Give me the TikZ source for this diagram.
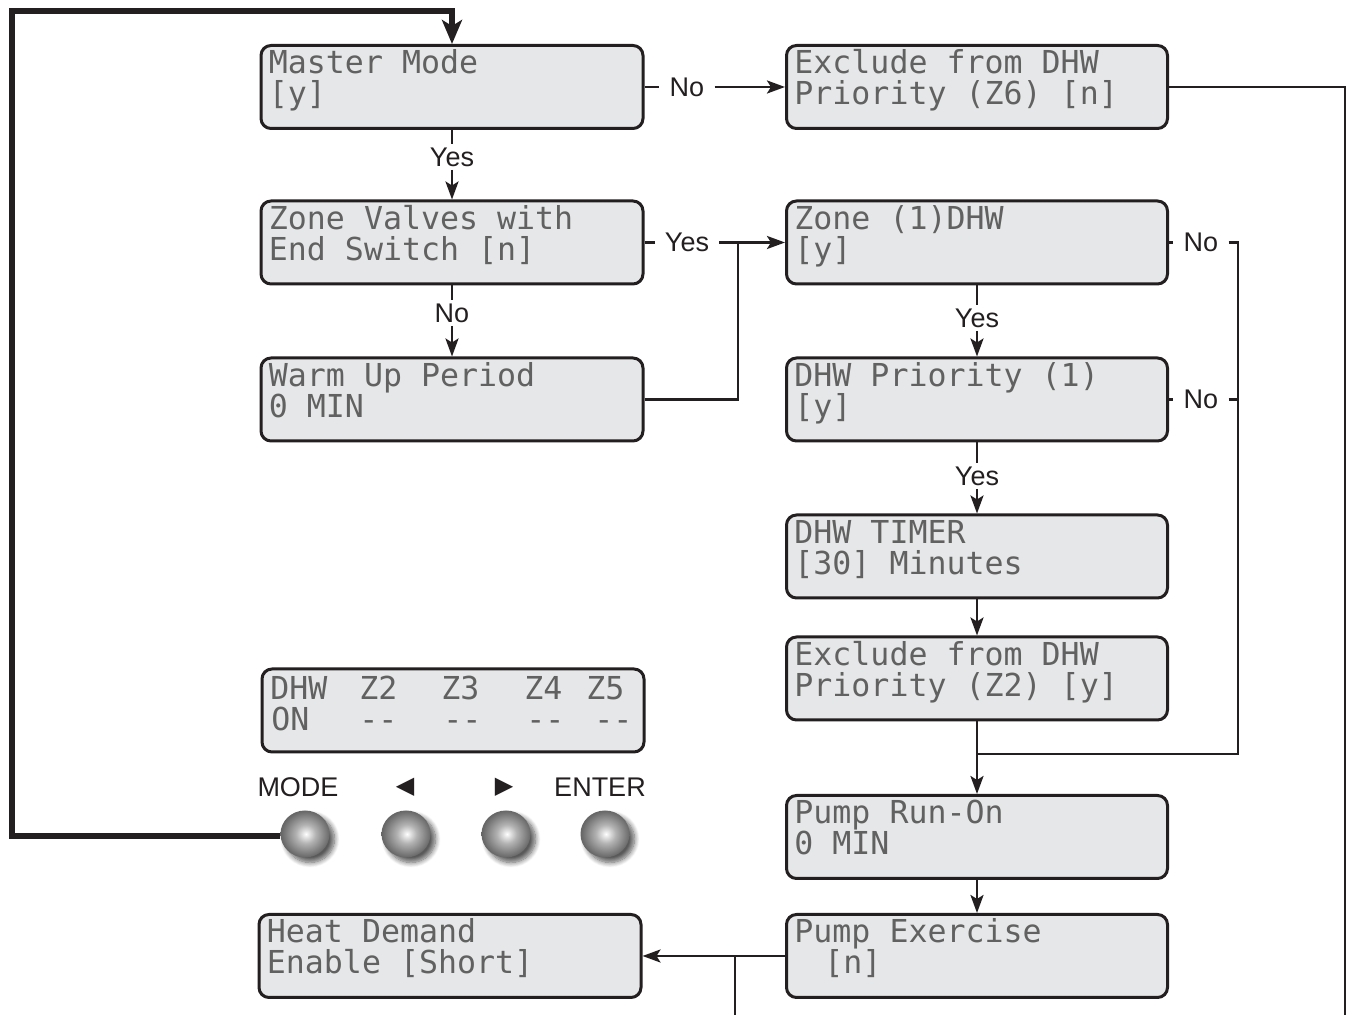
\documentclass[tikz,border=0pt]{standalone}
\usepackage{fontspec}
\setmainfont{Liberation Sans}
\newfontfamily\lcdfont{DejaVu Sans Mono}
\newfontfamily\symfont{DejaVu Sans}
\usetikzlibrary{arrows.meta,shapes.geometric,shadows.blur,calc}
\definecolor{lcdfill}{HTML}{E6E7E8}
\definecolor{ink}{HTML}{231F20}
\pgfdeclareradialshading{knobshade}{\pgfpoint{1bp}{0bp}}{%
  color(0bp)=(white); color(2.5bp)=(black!8); color(10bp)=(black!30);
  color(18bp)=(black!46); color(25bp)=(black!60); color(50bp)=(black!60)}
\newcommand\lcdlines[3]{%
  \node[lcdtext] (#1a) at ($(#1.north west)+(9,30)$) {#2};
  \node[lcdtext] (#1b) at ($(#1.north west)+(9,61)$) {#3};}
\begin{document}
\begin{tikzpicture}[x=0.5pt,y=-0.5pt,
  lcd/.style={draw=ink, line width=1.5pt, fill=lcdfill, rounded corners=5pt, minimum height=41.5pt, inner sep=0pt},
  lcdL/.style={lcd, minimum width=191pt},
  lcdR/.style={lcd, minimum width=190.5pt},
  lcdtext/.style={font=\lcdfont\fontsize{15.8}{16}\selectfont, text=black!62, inner sep=0pt, anchor=base west},
  conn/.style={draw=ink, line width=1.3pt},
  arr/.style={conn, -{Stealth[length=9pt,width=6.5pt,inset=2pt]}},
  lab/.style={font=\fontsize{13.5}{15}\selectfont, text=ink, inner xsep=5pt, inner ysep=1.5pt},
  btnlab/.style={font=\fontsize{13.5}{15}\selectfont, text=ink, inner sep=0pt},
  knob/.style={ellipse, minimum width=24.5pt, minimum height=23.5pt, inner sep=0pt, draw=none,
     shading=knobshade, blur shadow={shadow xshift=2.5pt, shadow yshift=-2.5pt, shadow blur radius=2.5pt, shadow blur steps=8, shadow opacity=65}},
  loopline/.style={draw=ink, line width=2.6pt, -{Stealth[length=12pt,width=10pt,inset=3pt]}}
]
\useasboundingbox (0,0) rectangle (1357,1015);

% left column boxes
\node[lcdL] (b1) at (452,87) {};
\node[lcdL] (b3) at (452,242.5) {};
\node[lcdL] (b5) at (452,399.5) {};
\node[lcdL] (b9) at (453,710.5) {};
\node[lcdL] (b12) at (450,956) {};
% right column boxes
\node[lcdR] (b2) at (977,87) {};
\node[lcdR] (b4) at (977,242.5) {};
\node[lcdR] (b6) at (977,399.5) {};
\node[lcdR] (b7) at (977,556.5) {};
\node[lcdR] (b8) at (977,678.5) {};
\node[lcdR] (b10) at (977,837) {};
\node[lcdR] (b11) at (977,956) {};

\lcdlines{b1}{Master Mode}{[y]}
\lcdlines{b3}{Zone Valves with}{End Switch [n]}
\lcdlines{b5}{Warm Up Period}{0 MIN}
\lcdlines{b12}{Heat Demand}{Enable [Short]}
\lcdlines{b2}{Exclude from DHW}{Priority (Z6) [n]}
\lcdlines{b4}{Zone (1)DHW}{[y]}
\lcdlines{b6}{DHW Priority (1)}{[y]}
\lcdlines{b7}{DHW TIMER}{[30] Minutes}
\lcdlines{b8}{Exclude from DHW}{Priority (Z2) [y]}
\lcdlines{b10}{Pump Run-On}{0 MIN}
\lcdlines{b11}{Pump Exercise}{\hspace{15pt}[n]}

% status display
\node[lcdtext] (d1) at (270,700) {DHW};
\node[lcdtext] (d2) at (359,700) {Z2};
\node[lcdtext] (d3) at (441,700) {Z3};
\node[lcdtext] (d4) at (524,700) {Z4};
\node[lcdtext] (d5) at (586,700) {Z5};
\node[lcdtext] (e1) at (271,731) {ON};
\node[lcdtext] (e2) at (359,731) {-{}-};
\node[lcdtext] (e3) at (443,731) {-{}-};
\node[lcdtext] (e4) at (526,731) {-{}-};
\node[lcdtext] (e5) at (594,731) {-{}-};

% buttons
\node[btnlab] (lmode) at (298,787) {MODE};
\node[btnlab, font=\symfont\fontsize{12}{14}\selectfont] (lleft) at (405,787) {◀};
\node[btnlab, font=\symfont\fontsize{12}{14}\selectfont] (lright) at (504,787) {▶};
\node[btnlab] (lenter) at (600,787) {ENTER};
\node[knob] (kmode) at (305,834) {};
\node[knob] (kleft) at (406,834) {};
\node[knob] (kright) at (506,834) {};
\node[knob] (kenter) at (605,834) {};

% labels
\node[lab] (nM) at (687,87) {No};
\node[lab] (yM) at (452,157) {Yes};
\node[lab] (yZ) at (687,242.5) {Yes};
\node[lab] (nZ) at (452,313) {No};
\node[lab] (nD1) at (1201,242.5) {No};
\node[lab] (yD1) at (977,318) {Yes};
\node[lab] (nD2) at (1201,399.5) {No};
\node[lab] (yD2) at (977,476) {Yes};

% coordinates
\coordinate (lp1) at (12,836);
\coordinate (lp2) at (12,11);
\coordinate (jz) at (738,242.5);
\coordinate (rc) at (1345,1015);
\coordinate (rj) at (1238,754);
\coordinate (mj) at (977,754);
\coordinate (pj) at (735,956);
\coordinate (pe) at (735,1015);

% thick loop from MODE
\draw[loopline] (kmode.west |- lp1) -- (lp1) -- (lp2) -- (b1.north |- lp2) -- (b1.north);

% connectors
\draw[conn] (b1.east) -- (nM.west);
\draw[arr] (nM.east) -- (b2.west);
\draw[conn] (b1.south) -- (yM.north);
\draw[arr] (yM.south) -- (b3.north);
\draw[conn] (b3.east) -- (yZ.west);
\draw[arr] (yZ.east) -- (b4.west);
\draw[conn] (b5.east) -| (jz);
\draw[conn] (b3.south) -- (nZ.north);
\draw[arr] (nZ.south) -- (b5.north);
\draw[conn] (b2.east) -| (rc);
\draw[conn] (b4.east) -- (nD1.west);
\draw[conn] (nD1.east) -| (rj) -- (mj);
\draw[conn] (b6.east) -- (nD2.west);
\draw[conn] (nD2.east) -- (nD2.east -| rj);
\draw[conn] (b4.south) -- (yD1.north);
\draw[arr] (yD1.south) -- (b6.north);
\draw[conn] (b6.south) -- (yD2.north);
\draw[arr] (yD2.south) -- (b7.north);
\draw[arr] (b7.south) -- (b8.north);
\draw[arr] (b8.south) -- (b10.north);
\draw[arr] (b10.south) -- (b11.north);
\draw[arr] (b11.west) -- (b12.east);
\draw[conn] (pj) -- (pe);
\end{tikzpicture}
\end{document}
